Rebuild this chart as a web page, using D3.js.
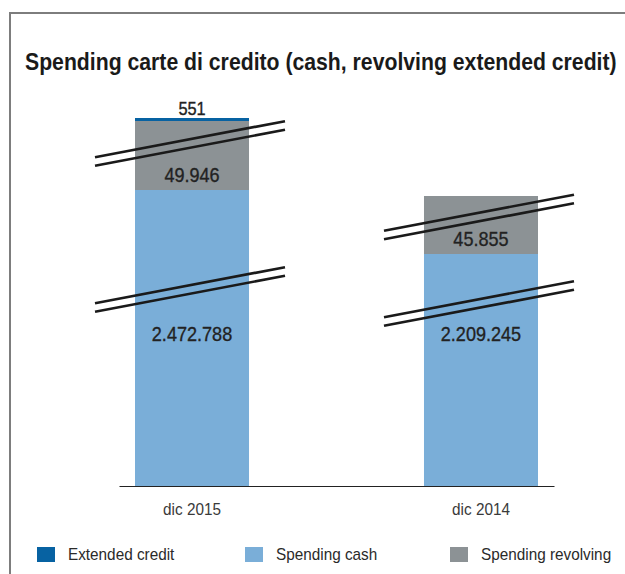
<!DOCTYPE html>
<html>
<head>
<meta charset="utf-8">
<script src="https://cdn.jsdelivr.net/npm/d3@7/dist/d3.min.js"></script>
<style>
  html, body { margin: 0; padding: 0; background: #fff; }
  svg { display: block; }
  text { font-family: 'Liberation Sans', Arial, sans-serif; }
</style>
</head>
<body>
<svg id="chart" width="625" height="574"></svg>
<script>
// ---- data ----
const categories = ["dic 2015", "dic 2014"];
const seriesNames = ["Spending cash", "Spending revolving", "Extended credit"];
const spendingCash = [2472788, 2209245];
const spendingRevolving = [49946, 45855];
const extendedCredit = [551, 0];
const valueLabels = {
  "Spending cash": ["2.472.788", "2.209.245"],
  "Spending revolving": ["49.946", "45.855"],
  "Extended credit": ["551", ""]
};
const legendOrder = ["Extended credit", "Spending cash", "Spending revolving"];
const titleText = "Spending carte di credito (cash, revolving extended credit)";

// ---- style ----
const colors = {
  "Extended credit": "#0762a2",
  "Spending cash": "#7aaed8",
  "Spending revolving": "#8c9295"
};

// condense text horizontally (reference uses a condensed face)
function condense(sel, factor) {
  sel.each(function () {
    const w = this.getComputedTextLength();
    d3.select(this).attr("textLength", w * factor).attr("lengthAdjust", "spacingAndGlyphs");
  });
}

const svg = d3.select("#chart");

// frame
svg.append("line").attr("x1", 10).attr("x2", 625).attr("y1", 13).attr("y2", 13)
  .attr("stroke", "#7d7d7d").attr("stroke-width", 2);
svg.append("line").attr("x1", 10).attr("x2", 10).attr("y1", 12).attr("y2", 574)
  .attr("stroke", "#7d7d7d").attr("stroke-width", 2);

// title (scaled horizontally to the reference width)
const titleG = svg.append("g");
const title = titleG.append("text").attr("x", 0).attr("y", 0)
  .attr("font-size", 23.5).attr("font-weight", "bold").attr("fill", "#1a1a1a")
  .text(titleText);
const tw = title.node().getComputedTextLength();
titleG.attr("transform", `translate(25,70) scale(${592 / tw},1)`);

// stacked data
const rows = categories.map((c, i) => ({
  category: c,
  "Spending cash": spendingCash[i],
  "Spending revolving": spendingRevolving[i],
  "Extended credit": extendedCredit[i]
}));
const stack = d3.stack().keys(seriesNames)(rows);

// scales
const x = d3.scaleBand().domain(categories).range([119, 554])
  .paddingInner(0.6055).paddingOuter(0.0554);

// broken (piecewise) value axis
const s1 = spendingCash[1];
const s2 = spendingCash[1] + spendingRevolving[1];
const s3 = spendingCash[0];
const s4 = spendingCash[0] + spendingRevolving[0];
const s5 = s4 + extendedCredit[0];
const y = d3.scaleLinear()
  .domain([0, s1, s2, s3, s4, s5])
  .range([486, 254, 196, 190, 121, 118]);

// bars
const layers = svg.append("g").selectAll("g").data(stack).join("g")
  .attr("fill", d => colors[d.key]);
layers.selectAll("rect").data(d => d).join("rect")
  .attr("x", d => x(d.data.category))
  .attr("width", x.bandwidth())
  .attr("y", d => y(d[1]))
  .attr("height", d => Math.max(0, y(d[0]) - y(d[1])));

// axis
const axis = svg.append("g").attr("transform", `translate(0,${y(0)})`)
  .call(d3.axisBottom(x).tickSize(0).tickSizeOuter(0).tickPadding(17));
axis.select(".domain").attr("stroke", "#222").attr("stroke-width", 1.2);
axis.selectAll(".tick text").attr("font-size", 17).attr("fill", "#3a3a3a")
  .attr("font-family", "'Liberation Sans', Arial, sans-serif")
  .call(condense, 0.9);

// break marks (pairs of slanted lines)
const breaks = [
  { category: "dic 2015", yc: 143.5 },
  { category: "dic 2015", yc: 289.5 },
  { category: "dic 2014", yc: 217 },
  { category: "dic 2014", yc: 303.5 }
];
const slope = -36 / 190;
const half = 95;
breaks.forEach(b => {
  const cx = x(b.category) + x.bandwidth() / 2 - 2;
  [-4.3, 4.3].forEach(off => {
    svg.append("line")
      .attr("x1", cx - half).attr("y1", b.yc + off - slope * half)
      .attr("x2", cx + half).attr("y2", b.yc + off + slope * half)
      .attr("stroke", "#1a1a1a").attr("stroke-width", 2.6);
  });
});

// value labels
const labelG = svg.append("g").attr("text-anchor", "middle").attr("fill", "#222");
categories.forEach((c, i) => {
  const cx = x(c) + x.bandwidth() / 2;
  labelG.append("text").attr("x", cx).attr("y", y(0) - 145)
    .attr("font-size", 21).text(valueLabels["Spending cash"][i]);
  labelG.append("text").attr("x", cx).attr("y", y(spendingCash[i]) - 8)
    .attr("font-size", 21).text(valueLabels["Spending revolving"][i]);
  if (extendedCredit[i] > 0) {
    labelG.append("text").attr("x", cx)
      .attr("y", y(spendingCash[i] + spendingRevolving[i] + extendedCredit[i]) - 3)
      .attr("font-size", 19).text(valueLabels["Extended credit"][i]);
  }
});
labelG.selectAll("text").attr("stroke", "#222").attr("stroke-width", 0.35).call(condense, 0.86);

// legend
const legendX = [37, 245, 450];
const legend = svg.append("g");
legendOrder.forEach((k, i) => {
  legend.append("rect").attr("x", legendX[i]).attr("y", 547)
    .attr("width", 18).attr("height", 15).attr("fill", colors[k]);
  legend.append("text").attr("x", legendX[i] + 31).attr("y", 560)
    .attr("font-size", 17).attr("fill", "#2a2a2a").text(k);
});
legend.selectAll("text").call(condense, 0.9);
</script>
</body>
</html>
